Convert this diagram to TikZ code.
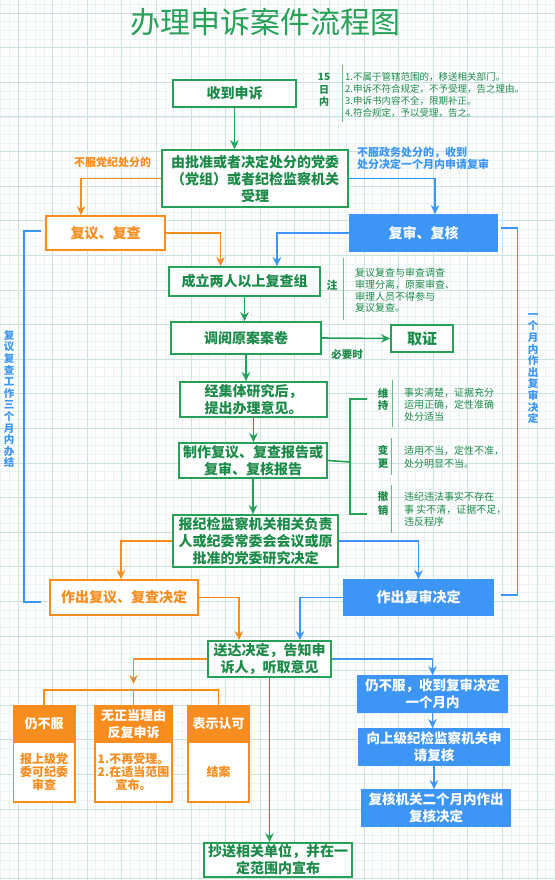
\documentclass[tikz,border=0pt]{standalone}
\usepackage{fontspec}
\setmainfont{Noto Sans CJK SC}
\usetikzlibrary{arrows.meta}
\definecolor{cgreen}{RGB}{39,160,88}
\definecolor{ctext}{RGB}{28,138,72}
\definecolor{corange}{RGB}{247,141,30}
\definecolor{cblue}{RGB}{61,150,245}
\definecolor{gridmin}{RGB}{234,244,245}
\definecolor{gridmaj}{RGB}{205,224,226}
\tikzset{
  box/.style={draw,line width=1.8pt,fill=white,align=center,inner sep=0pt,
              font=\fontsize{14}{17}\selectfont\bfseries},
  gbox/.style={box,draw=cgreen,text=ctext},
  obox/.style={box,draw=corange,text=corange},
  bbox/.style={box,draw=cblue,fill=cblue,text=white},
  ohead/.style={box,draw=corange,fill=corange,text=white,
                font=\fontsize{13}{16.5}\selectfont\bfseries},
  obody/.style={obox,font=\fontsize{12}{12.8}\selectfont\bfseries},
  garrow/.style={-{Stealth[length=9pt,width=8.5pt]},line width=1.6pt,draw=cgreen},
  oarrow/.style={garrow,draw=corange},
  barrow/.style={garrow,draw=cblue},
  note/.style={anchor=west,align=left,inner sep=0pt,text=ctext,
               font=\fontsize{9.5}{12}\selectfont},
  notetag/.style={align=center,inner sep=0pt,text=ctext,
                  font=\fontsize{11}{12.5}\selectfont\bfseries},
  noteline/.style={draw=cgreen!70,line width=.8pt},
  label/.style={inner sep=0pt,font=\fontsize{11}{11}\selectfont\bfseries},
  vtext/.style={align=center,inner sep=0pt,text=cblue,
                font=\fontsize{10.5}{11.6}\selectfont\bfseries}
}

\begin{document}
\begin{tikzpicture}[x=1pt,y=-1pt]
  % page and squared paper
  \useasboundingbox (0,0) rectangle (554,880);
  \fill[white] (0,0) rectangle (554,880);
  \foreach \i in {0,...,64}
    \draw[gridmin,line width=.5pt] ({0.5+\i*8.65},0) -- ++(0,880);
  \foreach \j in {0,...,101}
    \draw[gridmin,line width=.5pt] (0,{4.35+\j*8.65}) -- ++(554,0);
  \foreach \i in {0,...,15}
    \draw[gridmaj,line width=.6pt] ({17.8+\i*34.6},0) -- ++(0,880);
  \foreach \j in {0,...,25}
    \draw[gridmaj,line width=.6pt] (0,{13+\j*34.6}) -- ++(554,0);

  \node[text=cgreen,font=\fontsize{30}{30}\selectfont] (title) at (265,22) {办理申诉案件流程图};

  % main column
  \node[gbox,minimum width=123pt,minimum height=27pt] (recv) at (234.5,93.5) {收到申诉};
  \node[gbox,minimum width=186pt,minimum height=57pt] (accept) at (255,178.5)
    {由批准或者决定处分的党委\\（党组）或者纪检监察机关\\受理};
  \node[obox,minimum width=119pt,minimum height=34pt] (reviewO) at (105.5,233) {复议、复查};
  \node[bbox,minimum width=147pt,minimum height=36pt] (reviewB) at (423.5,233) {复审、复核};
  \node[gbox,minimum width=151pt,minimum height=29pt] (group) at (244.5,281.5) {成立两人以上复查组};
  \node[gbox,minimum width=150pt,minimum height=32pt] (consult) at (246,338) {调阅原案案卷};
  \node[gbox,minimum width=62pt,minimum height=27pt,
        font=\fontsize{15}{17}\selectfont\bfseries] (evid) at (422,338.5) {取证};
  \node[gbox,minimum width=147pt,minimum height=35pt] (study) at (253.5,399.5)
    {经集体研究后，\\提出办理意见。};
  \node[gbox,minimum width=148pt,minimum height=35pt] (report) at (253,460.5)
    {制作复议、复查报告或\\复审、复核报告};
  \node[gbox,minimum width=165pt,minimum height=52pt] (submit) at (255.5,541)
    {报纪检监察机关相关负责\\人或纪委常委会会议或原\\批准的党委研究决定};
  \node[obox,minimum width=148pt,minimum height=35pt] (decideO) at (124,597.5) {作出复议、复查决定};
  \node[bbox,minimum width=149pt,minimum height=35pt] (decideB) at (418.5,597.5) {作出复审决定};
  \node[gbox,minimum width=123pt,minimum height=36pt] (deliver) at (269.5,659)
    {送达决定，告知申\\诉人，听取意见};
  \node[gbox,minimum width=148pt,minimum height=34pt] (copy) at (278,860)
    {抄送相关单位，并在一\\定范围内宣布};

  % orange outcome cards
  \node[ohead,minimum width=61.5pt,minimum height=36pt] (o1h) at (44.2,724) {仍不服};
  \node[obody,minimum width=61.5pt,minimum height=60pt] (o1b) at (44.2,772) {报上级党\\委可纪委\\审查};
  \node[ohead,minimum width=77pt,minimum height=36pt] (o2h) at (133.5,724) {无正当理由\\反复申诉};
  \node[obody,minimum width=77pt,minimum height=60pt] (o2b) at (133.5,772) {1.不再受理。\\2.在适当范围\\宣布。};
  \node[ohead,minimum width=61pt,minimum height=36pt] (o3h) at (218.5,724) {表示认可};
  \node[obody,minimum width=61pt,minimum height=60pt] (o3b) at (218.5,772) {结案};

  % blue appeal chain
  \node[bbox,minimum width=149pt,minimum height=36pt,
        font=\fontsize{13.5}{16.5}\selectfont\bfseries] (still) at (432.5,694)
    {仍不服，收到复审决定\\一个月内};
  \node[bbox,minimum width=150pt,minimum height=36pt,
        font=\fontsize{13.5}{16.5}\selectfont\bfseries] (upper) at (434,747)
    {向上级纪检监察机关申\\请复核};
  \node[bbox,minimum width=148pt,minimum height=36pt,
        font=\fontsize{13.5}{16.5}\selectfont\bfseries] (final) at (436,808)
    {复核机关二个月内作出\\复核决定};

  % side notes
  \node[notetag,font=\fontsize{10}{12.5}\selectfont\bfseries] (days) at (324,90) {15\\日\\内};
  \draw[noteline] (342,65) -- (342,122);
  \node[note] (rules) at (345,95)
    {1.不属于管辖范围的，移送相关部门。\\2.申诉不符合规定，不予受理，告之理由。\\3.申诉书内容不全，限期补正。\\4.符合规定，予以受理，告之。};
  \node[label,text=corange] (partyL) at (112.5,162) {不服党纪处分的};
  \node[label,text=cblue,align=left,anchor=west,font=\fontsize{11}{11}\selectfont\bfseries] (govL) at (357,158.5)
    {不服政务处分的，收到\\处分决定一个月内申请复审};
  \node[notetag] (zhu) at (332,285) {注};
  \draw[noteline] (343,258) -- (343,320);
  \node[note,font=\fontsize{10}{11.7}\selectfont] (sep) at (355,290.5)
    {复议复查与审查调查\\审理分离，原案审查、\\审理人员不得参与\\复议复查。};
  \node[label,text=ctext,font=\fontsize{10.5}{11}\selectfont\bfseries] (need) at (347,355) {必要时};

  \node[notetag,font=\fontsize{10.5}{12}\selectfont\bfseries] (keep) at (383,399) {维\\持};
  \draw[noteline] (392,380) -- (392,427);
  \node[note,font=\fontsize{10}{12}\selectfont] (keepT) at (404,405)
    {事实清楚，证据充分\\运用正确，定性准确\\处分适当};
  \node[notetag,font=\fontsize{10.5}{13.5}\selectfont\bfseries] (change) at (383,457) {变\\更};
  \draw[noteline] (391,438) -- (391,475);
  \node[note,font=\fontsize{10}{13}\selectfont] (changeT) at (404,457.5)
    {适用不当，定性不准，\\处分明显不当。};
  \node[notetag,font=\fontsize{10.5}{13.5}\selectfont\bfseries] (undo) at (383,503.5) {撤\\销};
  \draw[noteline] (391,485) -- (391,533);
  \node[note,font=\fontsize{10}{12.5}\selectfont] (undoT) at (404,509.5)
    {违纪违法事实不存在\\事 实不清，证据不足，\\违反程序};

  \node[vtext] (sideL) at (9,399) {复\\议\\复\\查\\工\\作\\三\\个\\月\\内\\办\\结};
  \node[vtext] (sideR) at (533,368.5) {一\\个\\月\\内\\作\\出\\复\\审\\决\\定};

  % connectors
  \draw[garrow] (recv.south) -- (recv.south |- accept.north);
  \draw[oarrow] (accept.west) -| ([xshift=-24.5pt]reviewO.north);
  \draw[barrow] (accept.east) -| ([xshift=11.5pt]reviewB.north);
  \draw[oarrow] (reviewO.east) -| ([xshift=-24pt]group.north);
  \draw[barrow] (reviewB.west) -| ([xshift=32.5pt]group.north);
  \draw[garrow] (group.south) -- (group.south |- consult.north);
  \draw[garrow] (consult.east) -- (evid.west);
  \draw[garrow] (consult.south) -- (consult.south |- study.north);
  \draw[garrow] (study.south) -- (study.south |- report.north);
  \draw[garrow] (report.south) -- (report.south |- submit.north);
  \draw[oarrow] (submit.west) -| ([xshift=-3pt]decideO.north);
  \draw[barrow] (submit.east) -| (decideB.north);
  \draw[oarrow] (decideO.east) -| ([xshift=-30.5pt]deliver.north);
  \draw[barrow] (decideB.west) -| ([xshift=30.5pt]deliver.north);
  \draw[garrow] (deliver.south) -- (deliver.south |- copy.north);
  \draw[barrow] (deliver.east) -| (still.north);
  \draw[barrow] (still.south) -- (still.south |- upper.north);
  \draw[barrow] (upper.south) -- (upper.south |- final.north);

  % fork to the three cards
  \coordinate (fork) at (133.5,684);
  \coordinate (bar) at (133.5,690);
  \draw[oarrow] (deliver.west) -| (fork);
  \draw[corange,line width=1.6pt] (o1h.north) -- (o1h.north |- bar) -- (o3h.north |- bar) -- (o3h.north);
  \draw[corange,line width=1.6pt] (o2h.north |- bar) -- (o2h.north);

  % decision bracket
  \coordinate (brkM) at (350,462);
  \coordinate (brkT) at (367,399);
  \coordinate (brkB) at (367,514);
  \draw[cgreen,line width=1.6pt] (report.east) -- (brkM);
  \draw[cgreen,line width=1.6pt] (brkT) -- (brkM |- brkT) -- (brkM |- brkB) -- (brkB);

  % time brackets
  \coordinate (lT) at (41,231);
  \coordinate (lB) at (41,602);
  \coordinate (rT) at (501,228);
  \coordinate (rB) at (501,595);
  \draw[cblue,line width=1.4pt] (lT) -- (24,231) -- (24,602) -- (lB);
  \draw[cblue,line width=1.4pt] (rT) -- (517.5,228) -- (517.5,595) -- (rB);
\end{tikzpicture}
\end{document}
